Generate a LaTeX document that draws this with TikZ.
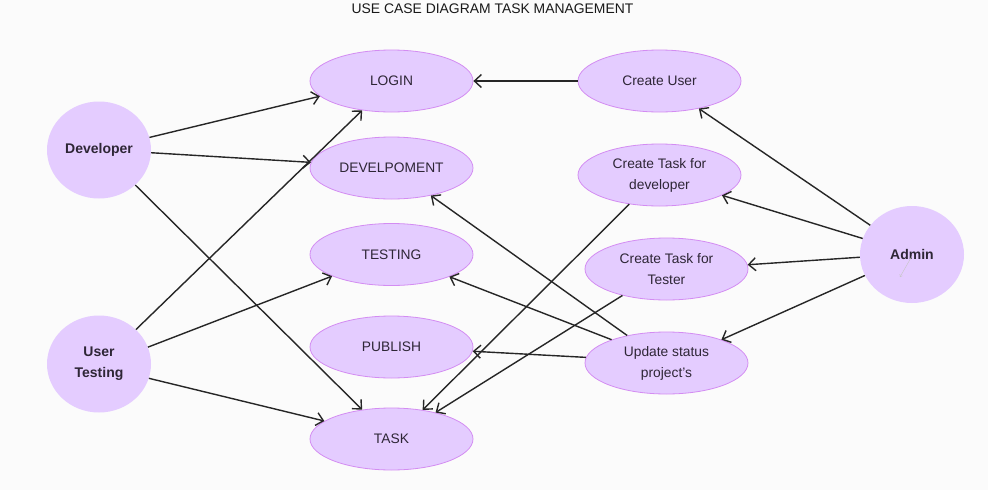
\documentclass[tikz,border=0pt]{standalone}
\usepackage{fontspec}
\setmainfont{Liberation Sans}
\usetikzlibrary{positioning, shapes.geometric, arrows.meta}
\definecolor{casefill}{HTML}{E4CCFF}
\definecolor{caseline}{HTML}{D38CF2}
\definecolor{inkcol}{HTML}{2E2636}
\definecolor{bgcol}{HTML}{FBFBFB}
\tikzstyle{usecase}=[ellipse, fill=casefill, draw=caseline, line width=0.8pt, minimum width=163pt, minimum height=62pt, inner sep=0pt, align=center, text=inkcol, font=\fontsize{13.8}{21}\selectfont]
\tikzstyle{actor}=[ellipse, fill=casefill, minimum width=104pt, minimum height=97pt, inner sep=0pt, align=center, text=inkcol, font=\fontsize{14}{21}\selectfont\bfseries]
\tikzstyle{assoc}=[->, draw=black!85, line width=1.4pt]

\begin{document}
\begin{tikzpicture}[x=1pt, y=-1pt, >={Straight Barb[length=7pt,width=13pt]}]
		\fill[bgcol] (0,0) rectangle (988,490);
		\node[font=\fontsize{13.9}{15}\selectfont, text=black!90] (title) at (492.5,9) {USE CASE DIAGRAM TASK MANAGEMENT};

		% Draw the actors
		\node[actor] (dev) at (99,150) {Developer};
		\node[actor] (ut) at (99,364) {User\\Testing};
		\node[actor] (admin) at (912,254.5) {Admin};

		% Draw the use cases of the developer and tester
		\node[usecase] (login) at (391.5,81) {LOGIN};
		\node[usecase] (devel) at (391.5,168) {DEVELPOMENT};
		\node[usecase] (test) at (391.5,254.5) {TESTING};
		\node[usecase] (pub) at (391.5,347) {PUBLISH};
		\node[usecase] (task) at (391.5,439) {TASK};

		% Draw the use cases of the admin
		\node[usecase] (cuser) at (659.5,81) {Create User};
		\node[usecase] (ctdev) at (659.5,175) {Create Task for\\developer};
		\node[usecase] (cttest) at (666.5,269) {Create Task for\\Tester};
		\node[usecase] (upd) at (666.5,363) {Update status\\project’s};

		% Connect the actors with their use cases
		\foreach \src/\sa/\dst/\da in {dev/14/login/192, dev/357/devel/176, dev/316/task/135.5,
			ut/43.4/login/225.5, ut/19/test/200, ut/344.6/task/165.3,
			admin/145.8/cuser/325.3, admin/162.8/ctdev/342.5, admin/183.9/cttest/3.5, admin/204.6/upd/23.3}
		\draw[assoc] (\src.\sa) -- (\dst.\da);

		% Connect the use cases with each other
		\draw[assoc] (cuser.west) -- (login.east);
		\foreach \src/\sa/\dst/\da in {ctdev/224.5/task/43.6, cttest/211.5/task/31.5,
			upd/145.6/devel/325, upd/157.8/test/339, upd/176.5/pub/357.2}
		\draw[assoc] (\src.\sa) -- (\dst.\da);

		% Stray mark inside the admin
		\coordinate (mark) at (900,277);
		\draw[->, >={Straight Barb[length=2pt,width=3pt]}, gray!45, line width=0.4pt] (911.7,256.5) -- (mark);
	\end{tikzpicture}
\end{document}
